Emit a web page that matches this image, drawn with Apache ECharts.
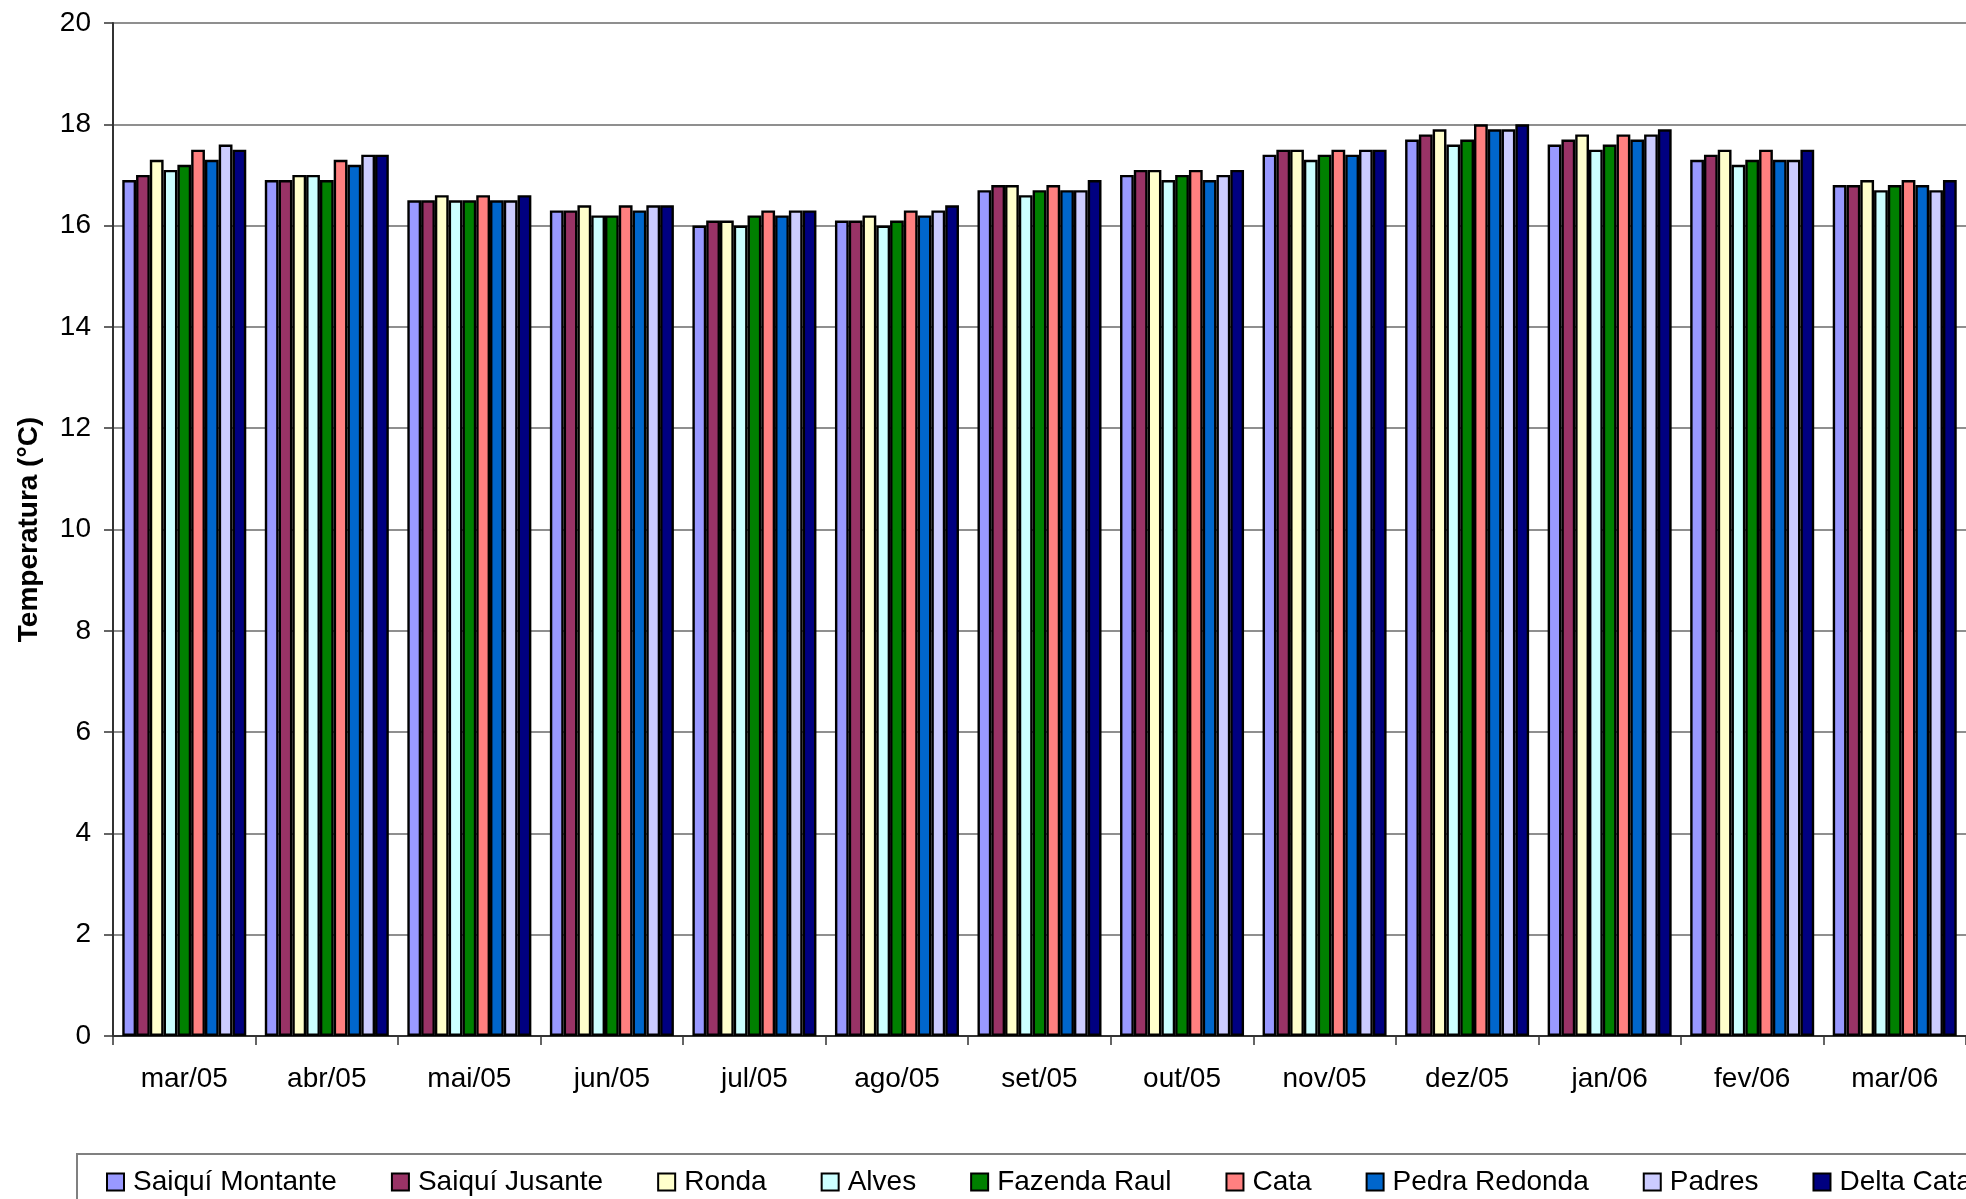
<!DOCTYPE html>
<html>
<head>
<meta charset="utf-8">
<script src="https://cdn.jsdelivr.net/npm/echarts@6/dist/echarts.min.js"></script>
<style>
html,body{margin:0;padding:0;background:#fff;}
#chart{width:1966px;height:1199px;}
</style>
</head>
<body>
<div id="chart"></div>
<script>
const months = ['mar/05','abr/05','mai/05','jun/05','jul/05','ago/05','set/05','out/05','nov/05','dez/05','jan/06','fev/06','mar/06'];
const yTicks = [0,2,4,6,8,10,12,14,16,18,20];
const saiquiMontante = [16.9,16.9,16.5,16.3,16.0,16.1,16.7,17.0,17.4,17.7,17.6,17.3,16.8];
const saiquiJusante  = [17.0,16.9,16.5,16.3,16.1,16.1,16.8,17.1,17.5,17.8,17.7,17.4,16.8];
const ronda          = [17.3,17.0,16.6,16.4,16.1,16.2,16.8,17.1,17.5,17.9,17.8,17.5,16.9];
const alves          = [17.1,17.0,16.5,16.2,16.0,16.0,16.6,16.9,17.3,17.6,17.5,17.2,16.7];
const fazendaRaul    = [17.2,16.9,16.5,16.2,16.2,16.1,16.7,17.0,17.4,17.7,17.6,17.3,16.8];
const cata           = [17.5,17.3,16.6,16.4,16.3,16.3,16.8,17.1,17.5,18.0,17.8,17.5,16.9];
const pedraRedonda   = [17.3,17.2,16.5,16.3,16.2,16.2,16.7,16.9,17.4,17.9,17.7,17.3,16.8];
const padres         = [17.6,17.4,16.5,16.4,16.3,16.3,16.7,17.0,17.5,17.9,17.8,17.3,16.7];
const deltaCata      = [17.5,17.4,16.6,16.4,16.3,16.4,16.9,17.1,17.5,18.0,17.9,17.5,16.9];

const seriesNames = ['Saiquí Montante','Saiquí Jusante','Ronda','Alves','Fazenda Raul','Cata','Pedra Redonda','Padres','Delta Cata'];
const seriesData = [saiquiMontante,saiquiJusante,ronda,alves,fazendaRaul,cata,pedraRedonda,padres,deltaCata];
const colors = ['#9999FF','#993366','#FFFFCC','#CCFFFF','#008000','#FF8080','#0066CC','#CCCCFF','#000080'];

const FONT = "'Liberation Sans', Arial, sans-serif";
const chart = echarts.init(document.getElementById('chart'), null, {renderer:'canvas'});
chart.setOption({
  animation:false,
  backgroundColor:'#ffffff',
  color: colors,
  textStyle:{fontFamily:FONT,color:'#000'},
  grid:{left:113, top:23, width:1858, height:1013, containLabel:false},
  graphic:[{
    type:'rect', silent:true, z:0,
    shape:{x:77, y:1154, width:2000, height:120},
    style:{fill:'none', stroke:'#808080', lineWidth:2}
  }],
  legend:{
    left:101, top:1163, width:2300,
    itemWidth:17, itemHeight:17, itemGap:54,
    icon:'rect',
    textStyle:{fontFamily:FONT, fontSize:28, color:'#000', padding:[0,0,0,4]},
    itemStyle:{borderColor:'#000', borderWidth:2},
    data: seriesNames
  },
  xAxis:{
    type:'category',
    data: months,
    axisLine:{lineStyle:{color:'#333', width:2}},
    axisTick:{show:true, length:9, lineStyle:{color:'#333', width:1.5}},
    axisLabel:{fontFamily:FONT, fontSize:28, color:'#000', margin:29},
    splitLine:{show:false}
  },
  yAxis:{
    type:'value', min:0, max:20, interval:2,
    name:'Temperatura (°C)', nameLocation:'middle', nameGap:70, nameRotate:90,
    nameTextStyle:{fontFamily:FONT, fontSize:28, fontWeight:'bold', color:'#000'},
    axisLine:{show:true, lineStyle:{color:'#333', width:2}},
    axisTick:{show:true, length:9, lineStyle:{color:'#333', width:1.5}},
    axisLabel:{fontFamily:FONT, fontSize:28, color:'#000', margin:22,
      formatter:function(v){ return yTicks.indexOf(v) >= 0 ? String(v) : ''; }},
    splitLine:{show:true, lineStyle:{color:'#6a6a6a', width:1.5}}
  },
  series: seriesNames.map(function(n,i){
    return {
      name:n, type:'bar', data: seriesData[i],
      barGap:'0%', barCategoryGap:'13%',
      itemStyle:{color:colors[i], borderColor:'#000', borderWidth:2.4}
    };
  })
});
</script>
</body>
</html>
